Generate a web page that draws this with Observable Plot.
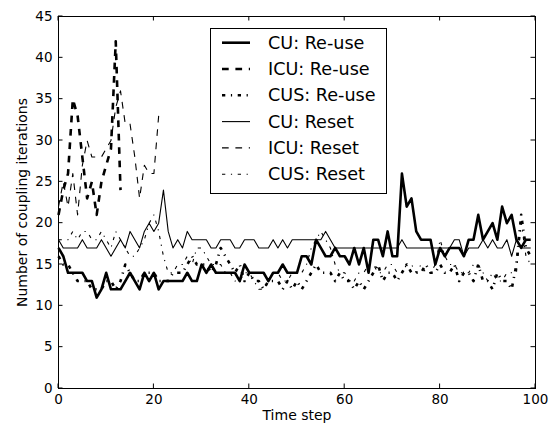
<!DOCTYPE html>
<html><head><meta charset="utf-8">
<script src="https://cdn.jsdelivr.net/npm/d3@7"></script>
<script src="https://cdn.jsdelivr.net/npm/@observablehq/plot@0.6"></script>
<style>html,body{margin:0;padding:0;background:#fff;} svg{display:block;}</style>
</head><body><div id="chart"></div>
<script>
// ---- data ----
const legendLabels = ["CU: Re-use", "ICU: Re-use", "CUS: Re-use", "CU: Reset", "ICU: Reset", "CUS: Reset"];
const xLabel = "Time step";
const yLabel = "Number of coupling iterations";
const xTicks = [0, 20, 40, 60, 80, 100];
const yTicks = [0, 5, 10, 15, 20, 25, 30, 35, 40, 45];

const cuReuse = [17,16,14,14,14,14,13,13,11,12, 14,12,12,12,13,14,13,12,14,13,
                 14,12,13,13,13,13,13,14,13,13, 15,14,15,14,14,14,14,14,13,15,
                 14,14,14,14,13,14,14,15,14,14, 14,16,16,15,18,17,16,16,17,16,
                 16,15,17,15,17,14,18,18,16,19, 16,16,26,22,23,19,18,18,18,15,
                 17,16,17,17,17,16,18,18,21,18, 19,20,18,22,20,21,18,17,18,18];
const icuReuse = [21,24,26,35,33,28,23,25,21,25,27,29,42,24];
const cusReuse = [16,15,15,14,13,13,13,12,12,12, 13,13,12,13,15,14,13,13,14,14,
                  14,13,13,13,14,14,14,15,16,15, 15,15,14,15,17,16,15,14,15,13,
                  14,13,13,12,13,13,13,12,13,12, 13,12,13,14,15,14,14,14,13,14,
                  13,13,12,13,12,13,14,15,13,14, 14,13,14,15,14,14,14,15,14,14,
                  15,14,14,15,13,14,14,13,15,13, 13,12,14,13,13,12,15,21,17,16];
const cuReset = [18,17,17,17,17,18,17,17,17,18, 17,16,17,18,17,19,18,17,19,20,
                 19,20,24,19,17,18,17,19,18,18, 18,18,17,17,18,18,18,17,17,18,
                 18,18,17,17,17,18,17,18,17,18, 18,18,18,18,18,18,19,18,17,17,
                 17,17,17,17,17,17,17,17,17,17, 17,17,18,17,17,17,17,17,17,17,
                 17,17,17,18,18,16,17,17,17,18, 17,18,17,17,18,16,18,17,17,17];
const icuReset = [22,25,22,26,21,27,30,28,28,28,29,30,34,36,32,32,28,23,27,26,26,33];
const cusReset = [18,18,18,19,18,19,19,18,18,19, 18,17,19,18,17,16,16,17,18,20,
                  21,19,16,14,14,15,15,16,15,17, 17,16,15,15,15,14,14,13,13,14,
                  14,13,12,12,13,14,14,13,13,14, 14,14,15,17,18,19,18,17,15,14,
                  14,13,13,14,14,15,15,14,14,15, 15,14,14,15,15,14,15,14,14,15,
                  18,16,15,15,14,14,14,15,15,14, 13,14,13,13,14,14,14,20,16,15];

// ---- styles ----
const THICK = 2.6, THIN = 1.1;
const DASH = "6.7,6.7", DASHDOT = "3.3,5.6,1.2,5.6";
const series = [
  {values: cuReuse,  w: THICK, dash: null},
  {values: icuReuse, w: THICK, dash: DASH},
  {values: cusReuse, w: THICK, dash: DASHDOT},
  {values: cuReset,  w: THIN,  dash: null},
  {values: icuReset, w: THIN,  dash: DASH},
  {values: cusReset, w: THIN,  dash: DASHDOT}
];
const font = "'DejaVu Sans', sans-serif";

const lineMarks = series.map(s => Plot.line(s.values, {
  x: (d, i) => i, y: d => d, stroke: "black", strokeWidth: s.w,
  strokeDasharray: s.dash || undefined, strokeLinecap: "butt", strokeLinejoin: "round"
}));

const chart = Plot.plot({
  width: 555, height: 427,
  marginLeft: 58, marginRight: 20, marginTop: 16, marginBottom: 39,
  style: {fontFamily: font, fontSize: "13.5px", color: "black", background: "white"},
  x: {domain: [0, 100]},
  y: {domain: [0, 45]},
  marks: [
    ...lineMarks,
    Plot.frame({stroke: "black", strokeWidth: 1}),
    Plot.axisX(xTicks, {anchor: "bottom", tickSize: 0, tickPadding: 6, label: null, fontSize: 13.5}),
    Plot.axisY(yTicks, {anchor: "left", tickSize: 0, tickPadding: 6, label: null, fontSize: 13.5}),
    Plot.text([xLabel], {text: d => d, frameAnchor: "bottom", textAnchor: "middle", dy: 31, fontSize: 14}),
    Plot.text([yLabel], {text: d => d, frameAnchor: "left", textAnchor: "middle", dx: -36, rotate: -90, fontSize: 14})
  ]
});
document.getElementById("chart").appendChild(chart);

// inward ticks on all four sides, positioned by Plot's scales
const sx = chart.scale("x"), sy = chart.scale("y");
const fx = sx.apply ? v => sx.apply(v) : d3.scaleLinear(sx.domain, sx.range);
const fy = sy.apply ? v => sy.apply(v) : d3.scaleLinear(sy.domain, sy.range);
const svg = d3.select(chart.tagName.toLowerCase() === "svg" ? chart : chart.querySelector("svg"));
const [x0, x1] = sx.range, [y0, y1] = sy.range; // y0 bottom, y1 top
const TL = 4.5;
const tg = svg.append("g").attr("stroke", "black").attr("stroke-width", 1);
xTicks.forEach(v => {
  const x = fx(v);
  tg.append("line").attr("x1", x).attr("x2", x).attr("y1", y0).attr("y2", y0 - TL);
  tg.append("line").attr("x1", x).attr("x2", x).attr("y1", y1).attr("y2", y1 + TL);
});
yTicks.forEach(v => {
  const y = fy(v);
  tg.append("line").attr("y1", y).attr("y2", y).attr("x1", x0).attr("x2", x0 + TL);
  tg.append("line").attr("y1", y).attr("y2", y).attr("x1", x1).attr("x2", x1 - TL);
});

// legend box inside the axes
const lg = svg.append("g").attr("font-family", font).attr("font-size", 17.6).attr("text-anchor", "start");
lg.append("rect").attr("x", 210.5).attr("y", 28.5).attr("width", 176).attr("height", 165)
  .attr("fill", "white").attr("stroke", "black").attr("stroke-width", 1);
series.forEach((s, i) => {
  const y = 42.7 + i * 26.3;
  lg.append("line").attr("x1", 222).attr("x2", 250).attr("y1", y).attr("y2", y)
    .attr("stroke", "black").attr("stroke-width", s.w)
    .attr("stroke-dasharray", s.dash).attr("stroke-linecap", "butt");
  lg.append("text").attr("x", 268).attr("y", y).attr("dy", "0.35em")
    .attr("text-anchor", "start").attr("fill", "black").text(legendLabels[i]);
});
</script>
</body></html>
